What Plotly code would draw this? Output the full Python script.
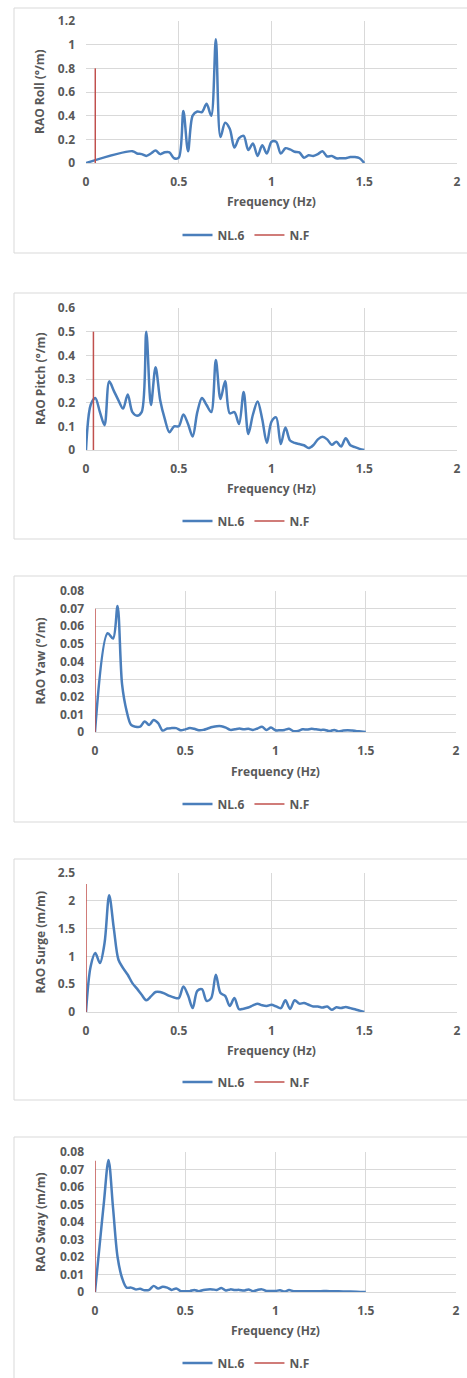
import plotly.graph_objects as go

# ---- RAO data (frequency in Hz) ----
roll_freq = [0, 0.25, 0.275, 0.3, 0.325, 0.35, 0.375, 0.4, 0.425, 0.45, 0.475, 0.5,
             0.525, 0.55, 0.575, 0.6, 0.625, 0.65, 0.675, 0.7, 0.725, 0.75, 0.775, 0.8,
             0.825, 0.85, 0.875, 0.9, 0.925, 0.95, 0.975, 1.0, 1.025, 1.05, 1.075, 1.1,
             1.125, 1.15, 1.175, 1.2, 1.225, 1.25, 1.275, 1.3, 1.325, 1.35, 1.375, 1.4,
             1.425, 1.45, 1.475, 1.5]
roll_rao = [0, 0.10, 0.08, 0.075, 0.06, 0.08, 0.105, 0.075, 0.09, 0.09, 0.04, 0.045,
            0.44, 0.10, 0.40, 0.435, 0.43, 0.50, 0.40, 1.045, 0.22, 0.34, 0.29, 0.13,
            0.21, 0.23, 0.11, 0.165, 0.06, 0.15, 0.08, 0.18, 0.18, 0.08, 0.125, 0.115,
            0.095, 0.09, 0.045, 0.065, 0.06, 0.075, 0.10, 0.055, 0.06, 0.04, 0.04, 0.04,
            0.05, 0.05, 0.04, 0.0]

pitch_freq = [0, 0.025, 0.05, 0.075, 0.1, 0.125, 0.15, 0.175, 0.2, 0.225, 0.25, 0.275,
              0.3, 0.325, 0.35, 0.375, 0.4, 0.425, 0.45, 0.475, 0.5, 0.525, 0.55, 0.575,
              0.6, 0.625, 0.65, 0.675, 0.7, 0.725, 0.75, 0.775, 0.8, 0.825, 0.85, 0.875,
              0.9, 0.925, 0.95, 0.975, 1.0, 1.025, 1.05, 1.075, 1.1, 1.125, 1.15, 1.175,
              1.2, 1.225, 1.25, 1.275, 1.3, 1.325, 1.35, 1.375, 1.4, 1.425, 1.45, 1.475, 1.5]
pitch_rao = [0, 0.19, 0.22, 0.16, 0.105, 0.29, 0.25, 0.21, 0.175, 0.235, 0.16, 0.145,
             0.16, 0.50, 0.19, 0.35, 0.21, 0.13, 0.075, 0.10, 0.10, 0.15, 0.11, 0.057,
             0.16, 0.22, 0.19, 0.16, 0.38, 0.215, 0.29, 0.155, 0.16, 0.11, 0.245, 0.068,
             0.15, 0.205, 0.13, 0.03, 0.12, 0.138, 0.025, 0.095, 0.04, 0.03, 0.025, 0.02,
             0.008, 0.02, 0.045, 0.056, 0.045, 0.022, 0.035, 0.015, 0.05, 0.02, 0.012, 0.005, 0.0]

yaw_freq = [0, 0.07, 0.1, 0.125, 0.15, 0.175, 0.2, 0.225, 0.25, 0.275, 0.3, 0.325, 0.35,
            0.375, 0.4, 0.425, 0.45, 0.475, 0.5, 0.525, 0.55, 0.575, 0.6, 0.625, 0.65,
            0.675, 0.7, 0.725, 0.75, 0.775, 0.8, 0.825, 0.85, 0.875, 0.9, 0.925, 0.95,
            0.975, 1.0, 1.025, 1.05, 1.075, 1.1, 1.125, 1.15, 1.175, 1.2, 1.225, 1.25,
            1.275, 1.3, 1.325, 1.35, 1.375, 1.4, 1.425, 1.45, 1.475, 1.5]
yaw_rao = [0, 0.056, 0.053, 0.0715, 0.027, 0.012, 0.004, 0.003, 0.003, 0.006, 0.004,
           0.0068, 0.005, 0.0008, 0.002, 0.0022, 0.0022, 0.001, 0.0015, 0.0022, 0.0018,
           0.001, 0.0012, 0.002, 0.0028, 0.0033, 0.0033, 0.0025, 0.0012, 0.0015, 0.002,
           0.0015, 0.0018, 0.0012, 0.002, 0.003, 0.0012, 0.0025, 0.001, 0.001, 0.0012,
           0.0018, 0.0005, 0.0006, 0.0015, 0.0014, 0.0018, 0.0015, 0.0012, 0.0012, 0.0005,
           0.0012, 0.0003, 0.0008, 0.001, 0.0008, 0.0005, 0.0003, 0.0]

surge_freq = [0, 0.025, 0.05, 0.075, 0.1, 0.125, 0.15, 0.175, 0.2, 0.225, 0.25, 0.275,
              0.3, 0.325, 0.35, 0.375, 0.4, 0.425, 0.45, 0.475, 0.5, 0.525, 0.55, 0.575,
              0.6, 0.625, 0.65, 0.675, 0.7, 0.725, 0.75, 0.775, 0.8, 0.825, 0.85, 0.875,
              0.9, 0.925, 0.95, 0.975, 1.0, 1.025, 1.05, 1.075, 1.1, 1.125, 1.15, 1.175,
              1.2, 1.225, 1.25, 1.275, 1.3, 1.325, 1.35, 1.375, 1.4, 1.425, 1.45, 1.475, 1.5]
surge_rao = [0, 0.82, 1.06, 0.88, 1.24, 2.1, 1.5, 0.94, 0.79, 0.67, 0.52, 0.42,
             0.31, 0.21, 0.28, 0.36, 0.36, 0.33, 0.29, 0.26, 0.25, 0.46, 0.30, 0.07,
             0.38, 0.41, 0.20, 0.25, 0.67, 0.34, 0.29, 0.11, 0.25, 0.05, 0.06, 0.08,
             0.12, 0.15, 0.12, 0.11, 0.13, 0.10, 0.07, 0.21, 0.055, 0.21, 0.15, 0.16,
             0.13, 0.10, 0.10, 0.08, 0.10, 0.04, 0.085, 0.07, 0.09, 0.07, 0.05, 0.025, 0.0]

sway_freq = [0, 0.025, 0.05, 0.075, 0.1, 0.125, 0.15, 0.175, 0.2, 0.225, 0.25, 0.275,
             0.3, 0.325, 0.35, 0.375, 0.4, 0.425, 0.45, 0.475, 0.5, 0.525, 0.55, 0.575,
             0.6, 0.625, 0.65, 0.675, 0.7, 0.725, 0.75, 0.775, 0.8, 0.825, 0.85, 0.875,
             0.9, 0.925, 0.95, 0.975, 1.0, 1.025, 1.05, 1.075, 1.1, 1.15, 1.2, 1.25,
             1.3, 1.35, 1.4, 1.45, 1.5]
sway_rao = [0, 0.026, 0.052, 0.0755, 0.048, 0.02, 0.008, 0.0025, 0.0025, 0.0015, 0.0018,
            0.001, 0.0012, 0.0035, 0.002, 0.003, 0.0025, 0.0012, 0.002, 0.0005, 0.0005,
            0.0005, 0.0012, 0.0005, 0.0012, 0.0015, 0.0015, 0.0012, 0.0023, 0.0009,
            0.0015, 0.0012, 0.0012, 0.0008, 0.0015, 0.0005, 0.0012, 0.0015, 0.0006,
            0.0006, 0.0006, 0.001, 0.0003, 0.0011, 0.0005, 0.0005, 0.0005, 0.0005,
            0.0005, 0.0004, 0.0003, 0.0002, 0.0]

# natural frequency markers: (frequency, line height)
nf_freq = [0.05, 0.04, 0.0, 0.0, 0.0]
nf_height = [0.8, 0.5, 0.07, 2.3, 0.075]

y_titles = ["RAO Roll (°/m)", "RAO Pitch (°/m)", "RAO Yaw (°/m)",
            "RAO Surge (m/m)", "RAO Sway (m/m)"]
y_max = [1.2, 0.6, 0.08, 2.5, 0.08]
y_step = [0.2, 0.1, 0.01, 0.5, 0.01]
x_ticks = [0, 0.5, 1, 1.5, 2]
series_name = "NL.6"
nf_name = "N.F"

freqs = [roll_freq, pitch_freq, yaw_freq, surge_freq, sway_freq]
raos = [roll_rao, pitch_rao, yaw_rao, surge_rao, sway_rao]

# ---- layout geometry (pixels) ----
W, H = 467, 1378
plots = [  # x0, x1, ytop, ybottom
    (86, 457, 21, 163),
    (86, 457, 308, 450),
    (95, 456, 591, 732),
    (86, 457, 873, 1012),
    (95, 456, 1152, 1292),
]
boxes = [(8, 253), (293, 539), (576, 822), (859, 1100), (1137, 1420)]
xtitle_y = [202, 488, 771, 1050, 1330]
legend_y = [235, 521, 804, 1082, 1363]

BLUE = "#4A7EBB"
RED = "#C0504D"
GRID = "#D9D9D9"
TEXT = "#595959"
FONT = "Open Sans"


def px(x):
    return x / W


def py(y):
    return 1 - y / H


fig = go.Figure()
layout = dict(
    template="none",
    width=W, height=H, autosize=False,
    margin=dict(l=0, r=0, t=0, b=0, pad=0),
    paper_bgcolor="white", plot_bgcolor="white",
    font=dict(family=FONT, size=12, color=TEXT, weight="bold"),
    shapes=[], annotations=[],
)

for i in range(5):
    n = "" if i == 0 else str(i + 1)
    xa, ya = "x" + n, "y" + n
    leg = "legend" + n
    x0, x1, yt, yb = plots[i]

    fig.add_trace(go.Scatter(
        x=freqs[i], y=raos[i], mode="lines", name=series_name,
        line=dict(color=BLUE, width=2.5, shape="spline", smoothing=0.9),
        xaxis=xa, yaxis=ya, legend=leg,
    ))
    fig.add_trace(go.Scatter(
        x=[nf_freq[i], nf_freq[i]], y=[0, nf_height[i]], mode="lines", name=nf_name,
        line=dict(color=RED, width=1.5),
        xaxis=xa, yaxis=ya, legend=leg,
    ))

    layout["xaxis" + n] = dict(
        domain=[px(x0), px(x1)], anchor=ya, range=[0, 2], automargin=False,
        tickvals=x_ticks, showgrid=True, gridcolor=GRID, gridwidth=1,
        showline=True, linecolor=GRID, linewidth=1, zeroline=False,
        ticks="", ticklabelstandoff=8, fixedrange=True,
        tickfont=dict(family=FONT, size=12, color=TEXT, weight="bold"),
    )
    layout["yaxis" + n] = dict(
        domain=[py(yb), py(yt)], anchor=xa, range=[0, y_max[i]], automargin=False,
        dtick=y_step[i], tick0=0, showgrid=True, gridcolor=GRID, gridwidth=1,
        showline=False, zeroline=False, ticks="", ticklabelstandoff=10,
        fixedrange=True,
        tickfont=dict(family=FONT, size=12, color=TEXT, weight="bold"),
    )
    layout[leg] = dict(
        orientation="h", x=px(246), y=py(legend_y[i]),
        xanchor="center", yanchor="middle", bgcolor="rgba(0,0,0,0)",
        font=dict(family=FONT, size=12, color=TEXT, weight="bold"),
        itemwidth=30, tracegroupgap=0,
    )

    # chart frame
    layout["shapes"].append(dict(
        type="rect", xref="paper", yref="paper",
        x0=px(14), x1=px(480), y0=py(boxes[i][1]), y1=py(boxes[i][0]),
        line=dict(color=GRID, width=1), fillcolor="rgba(0,0,0,0)", layer="below",
    ))
    # axis titles
    layout["annotations"].append(dict(
        text="Frequency (Hz)", xref="paper", yref="paper",
        x=px((x0 + x1) / 2), y=py(xtitle_y[i]), xanchor="center", yanchor="middle",
        showarrow=False, font=dict(family=FONT, size=12, color=TEXT, weight="bold"),
    ))
    layout["annotations"].append(dict(
        text=y_titles[i], xref="paper", yref="paper", textangle=-90,
        x=px(40), y=py((yt + yb) / 2), xanchor="center", yanchor="middle",
        showarrow=False, font=dict(family=FONT, size=12, color=TEXT, weight="bold"),
    ))

fig.update_layout(**layout)
fig.write_html("out.html")
